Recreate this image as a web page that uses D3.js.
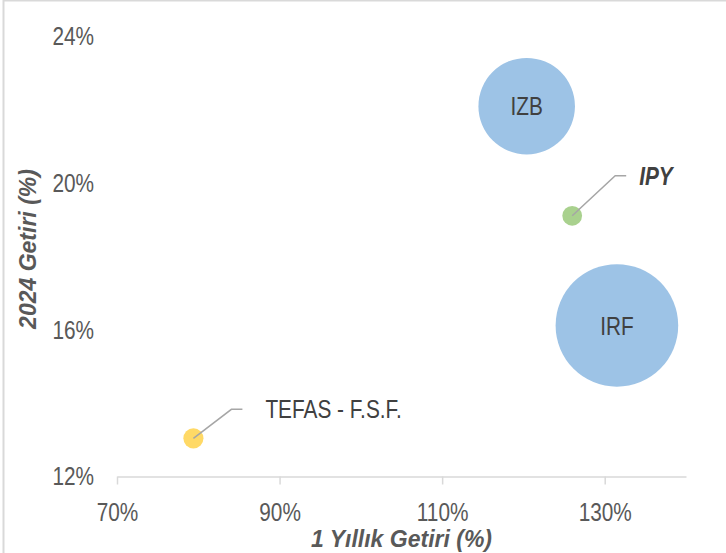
<!DOCTYPE html>
<html>
<head>
<meta charset="utf-8">
<script src="https://cdn.jsdelivr.net/npm/d3@7"></script>
<style>
  html, body { margin: 0; padding: 0; background: #fff; }
  svg { display: block; }
</style>
</head>
<body>
<svg id="chart" width="726" height="553"></svg>
<script>
// ---- data ----
const categories = ["IZB", "IRF", "IPY", "TEFAS - F.S.F."];
const returns1y = [120.4, 131.5, 126.0, 79.4];      // 1 Yıllık Getiri (%)
const returns2024 = [22.10, 16.12, 19.11, 13.04];   // 2024 Getiri (%)
const bubbleSizes = [62, 100, 2.6, 2.7];
const xTickValues = [70, 90, 110, 130];
const yTickValues = [12, 16, 20, 24];
const xTitle = "1 Yıllık Getiri (%)";
const yTitle = "2024 Getiri (%)";

// ---- styles ----
const bubbleColors = ["#9DC3E6", "#9DC3E6", "#A9D18E", "#FFD966"];
const labelStyle = [
  {mode: "inside"},
  {mode: "inside"},
  {mode: "leader", dx: 43, dy: -40, run: 11, gap: 13, bold: true},
  {mode: "leader", dx: 38, dy: -29, run: 11, gap: 23, bold: false}
];
const FONT = "'Liberation Sans', Arial, sans-serif";
const NARROW_SCALE = 0.8;   // emulate Arial Narrow
const FS = "26px";

const svg = d3.select("#chart");

// chart frame
svg.append("rect")
  .attr("x", 3.5).attr("y", 0.5)
  .attr("width", 900).attr("height", 900)
  .attr("fill", "none")
  .attr("stroke", "#D9D9D9")
  .attr("stroke-width", 2);

const x = d3.scaleLinear().domain([70, 140]).range([117, 686]);
const y = d3.scaleLinear().domain([12, 24]).range([476.5, 36.5]);
const r = d3.scaleSqrt().domain([0, 100]).range([0, 61.3]);

// x axis
const xAxis = svg.append("g")
  .attr("transform", `translate(0,${y(12)})`)
  .call(d3.axisBottom(x).tickValues(xTickValues).tickSize(8).tickSizeOuter(0)
        .tickFormat(d => d + "%"));
xAxis.select(".domain").attr("stroke", "#D9D9D9").attr("stroke-width", 1.5);
xAxis.selectAll(".tick line").attr("stroke", "#D9D9D9").attr("stroke-width", 1.5);
xAxis.selectAll(".tick text")
  .attr("y", 35.5).attr("dy", "0.35em")
  .attr("transform", `scale(${NARROW_SCALE},1)`)
  .attr("fill", "#595959")
  .style("font-family", FONT).style("font-size", FS);

// y axis (labels only)
const yAxis = svg.append("g")
  .attr("transform", `translate(94,0)`)
  .call(d3.axisLeft(y).tickValues(yTickValues).tickSize(0).tickPadding(0)
        .tickFormat(d => d + "%"));
yAxis.select(".domain").remove();
yAxis.selectAll(".tick text")
  .attr("transform", `scale(${NARROW_SCALE},1)`)
  .attr("fill", "#595959")
  .style("font-family", FONT).style("font-size", FS);

// axis titles
svg.append("text")
  .attr("x", 401.5).attr("y", 539).attr("dy", "0.35em")
  .attr("text-anchor", "middle")
  .attr("fill", "#595959")
  .style("font-family", FONT).style("font-size", "23px")
  .style("font-weight", "bold").style("font-style", "italic")
  .text(xTitle);

svg.append("text")
  .attr("transform", "translate(28,249) rotate(-90)")
  .attr("dy", "0.35em")
  .attr("text-anchor", "middle")
  .attr("fill", "#595959")
  .style("font-family", FONT).style("font-size", "23px")
  .style("font-weight", "bold").style("font-style", "italic")
  .text(yTitle);

// bubbles
const data = categories.map((c, i) => ({
  name: c, xv: returns1y[i], yv: returns2024[i], size: bubbleSizes[i],
  color: bubbleColors[i], lab: labelStyle[i]
}));

const order = data.slice().sort((a, b) => b.size - a.size);
svg.append("g").selectAll("circle")
  .data(order)
  .join("circle")
  .attr("cx", d => x(d.xv))
  .attr("cy", d => y(d.yv))
  .attr("r", d => r(d.size))
  .attr("fill", d => d.color);

// labels
data.forEach(d => {
  const cx = x(d.xv), cy = y(d.yv);
  if (d.lab.mode === "inside") {
    svg.append("text")
      .attr("transform", `translate(${cx},${cy}) scale(${NARROW_SCALE},1)`)
      .attr("dy", "0.35em")
      .attr("text-anchor", "middle")
      .attr("fill", "#404040")
      .style("font-family", FONT).style("font-size", FS)
      .text(d.name);
  } else {
    const ex = cx + d.lab.dx, ey = cy + d.lab.dy;
    svg.append("path")
      .attr("d", `M${cx},${cy}L${ex},${ey}L${ex + d.lab.run},${ey}`)
      .attr("fill", "none")
      .attr("stroke", "#A6A6A6")
      .attr("stroke-width", 1.5);
    svg.append("text")
      .attr("transform", `translate(${ex + d.lab.run + d.lab.gap},${ey}) scale(${NARROW_SCALE},1)`)
      .attr("dy", "0.35em")
      .attr("fill", "#404040")
      .style("font-family", FONT).style("font-size", FS)
      .style("font-weight", d.lab.bold ? "bold" : "normal")
      .style("font-style", d.lab.bold ? "italic" : "normal")
      .text(d.name);
  }
});
</script>
</body>
</html>
